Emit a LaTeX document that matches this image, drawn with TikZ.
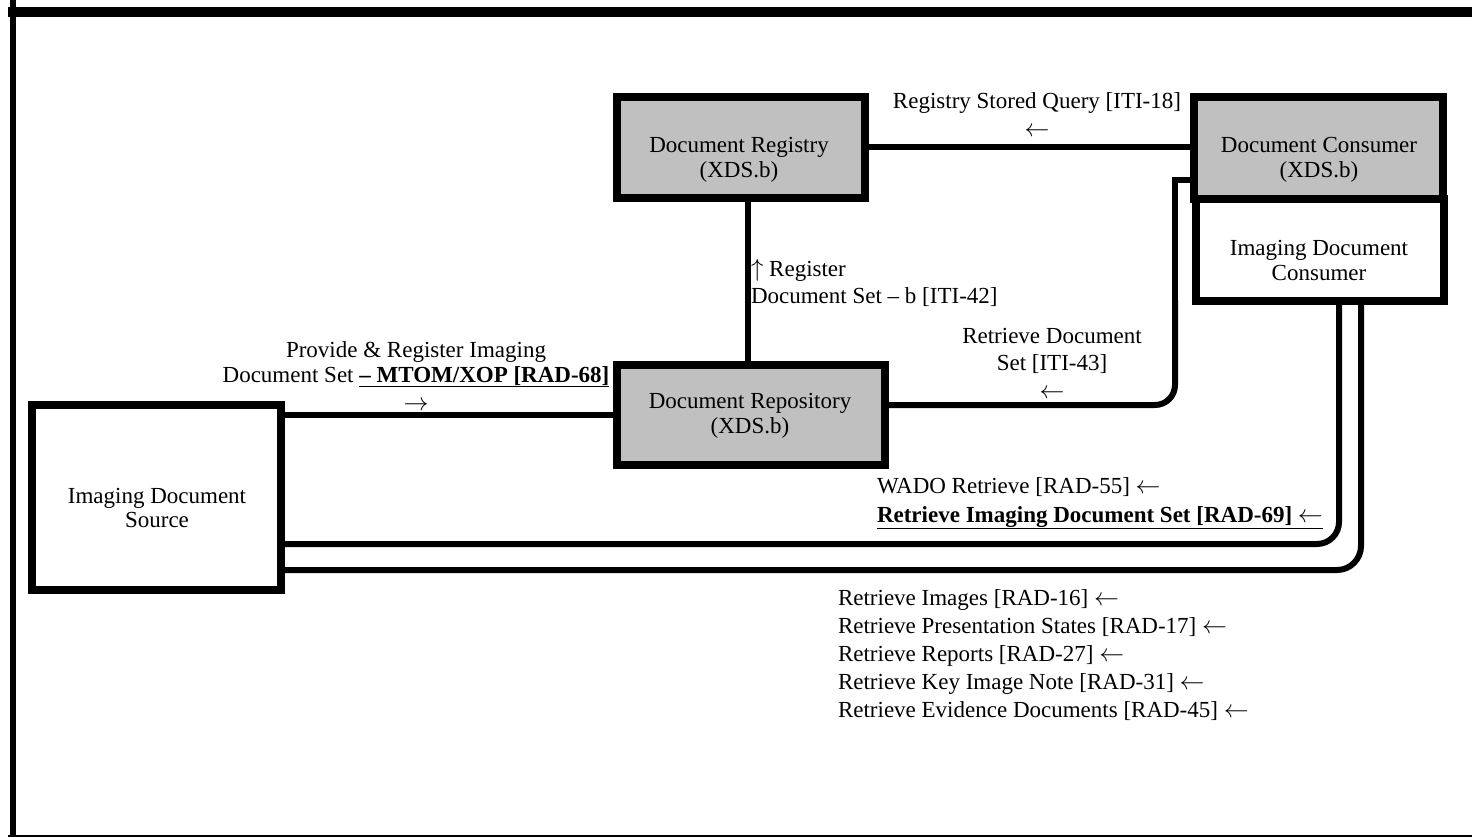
\documentclass[tikz,border=0pt]{standalone}
\usepackage{fontspec}
\setmainfont{Liberation Serif}
\newcommand{\fsz}{\fontsize{23}{27}\selectfont}
\newcommand{\la}{$\leftarrow$}
\newcommand{\ra}{$\rightarrow$}
\newcommand{\ua}{$\uparrow$}
\definecolor{boxgray}{RGB}{192,192,192}
\begin{document}
\begin{tikzpicture}[x=1pt,y=-1pt,
  blk/.style={draw=black, line width=8pt, inner sep=0pt, outer sep=0pt},
  gry/.style={blk, fill=boxgray},
  wht/.style={blk, fill=white},
  conn/.style={draw=black, line width=6pt},
  txt/.style={inner sep=0pt, outer sep=0pt, font=\fsz, text=black, anchor=base},
  txtl/.style={txt, anchor=base west}]
\useasboundingbox (0,0) rectangle (1472,837);
\clip (0,0) rectangle (1472,837);
\fill[white] (0,0) rectangle (1472,837);
% outer frame
\draw[line width=6pt] (13,0) -- (13,845);
\draw[line width=10pt] (8,12) -- (1480,12);
\draw[line width=6pt] (8,838) -- (1480,838);

% boxes
\node[gry, minimum width=248pt, minimum height=101pt] (reg) at (741,147.5) {};
\node[gry, minimum width=249pt, minimum height=102pt] (cons) at (1318.5,148) {};
\node[wht, minimum width=248pt, minimum height=102pt] (imgc) at (1320,250) {};
\node[gry, minimum width=268pt, minimum height=100pt] (repo) at (751,415) {};
\node[wht, minimum width=249pt, minimum height=185pt] (src) at (156.5,497.5) {};

% box texts
\node[txt] (regt1) at (739,153) {Document Registry};
\node[txt] (regt2) at (739,178) {(XDS.b)};
\node[txt] (const1) at (1319,153) {Document Consumer};
\node[txt] (const2) at (1319,178) {(XDS.b)};
\node[txt] (imgct1) at (1319,255) {Imaging Document};
\node[txt] (imgct2) at (1319,280) {Consumer};
\node[txt] (repot1) at (750,408) {Document Repository};
\node[txt] (repot2) at (750,433) {(XDS.b)};
\node[txt] (srct1) at (157,503) {Imaging Document};
\node[txt] (srct2) at (157,527) {Source};

% connectors
\draw[conn] (reg.east) -- (reg.east -| cons.west);
\draw[conn] ([xshift=7pt]reg.south) -- ([xshift=7pt]reg.south |- repo.north);
\coordinate (rdmid) at (1175,300);
\draw[conn, rounded corners=20pt] ([yshift=10pt]repo.east) -| (rdmid);
\draw[conn] (rdmid) |- ([yshift=-32pt]cons.west);
\draw[conn] (repo.west) -- (repo.west -| src.east);
\draw[conn, rounded corners=22pt] ([xshift=19pt]imgc.south) |- ([yshift=-46.5pt]src.east);
\draw[conn, rounded corners=24pt] ([xshift=41pt]imgc.south) |- ([yshift=-72.5pt]src.east);

% connector labels
\node[txt] (q1) at (1037,109) {Registry Stored Query [ITI-18]};
\node[txt] (q2) at (1037,137) {\la};
\node[txtl] (r1) at (751,276) {\ua\ Register};
\node[txtl] (r2) at (751,303) {Document Set – b [ITI-42]};
\node[txt] (rd1) at (1052,343) {Retrieve Document};
\node[txt] (rd2) at (1052,370) {Set [ITI-43]};
\node[txt] (rd3) at (1052,398) {\la};
\node[txt] (p1) at (416,357) {Provide \& Register Imaging};
\node[txt] (p2) at (416,382) {Document Set \underline{\textbf{– MTOM/XOP [RAD-68]}}};
\node[txt] (p3) at (416,410) {\ra};
\node[txtl] (w1) at (877,493) {WADO Retrieve [RAD-55] \la};
\node[txtl] (w2) at (877,522) {\underline{\textbf{Retrieve Imaging Document Set [RAD-69]} \la}};
\node[txtl] (l1) at (838,605) {Retrieve Images [RAD-16] \la};
\node[txtl] (l2) at (838,633) {Retrieve Presentation States [RAD-17] \la};
\node[txtl] (l3) at (838,661) {Retrieve Reports [RAD-27] \la};
\node[txtl] (l4) at (838,689) {Retrieve Key Image Note [RAD-31] \la};
\node[txtl] (l5) at (838,717) {Retrieve Evidence Documents [RAD-45] \la};
\end{tikzpicture}
\end{document}
